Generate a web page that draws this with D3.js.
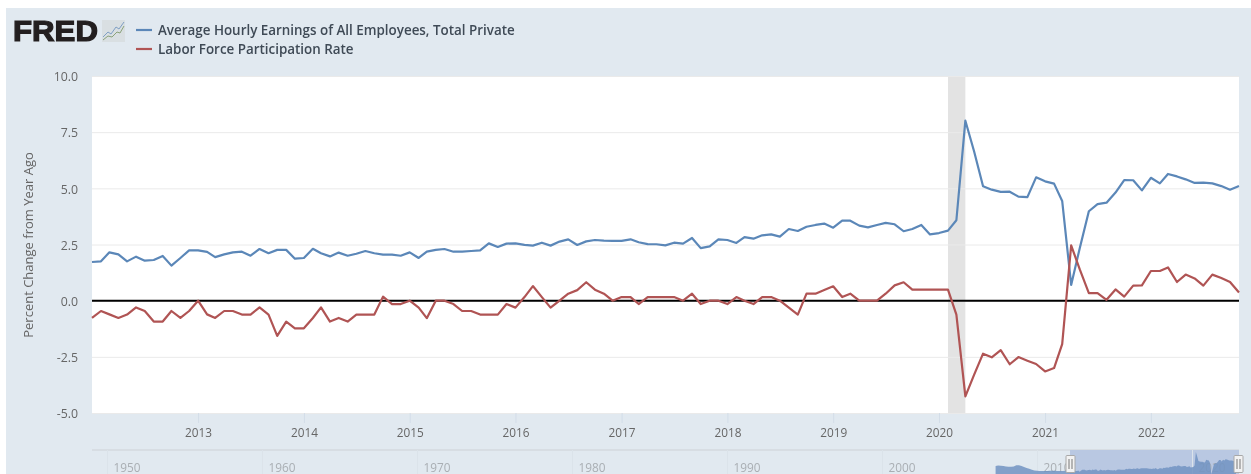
<!DOCTYPE html>
<html><head><meta charset="utf-8">
<script src="https://cdn.jsdelivr.net/npm/d3@7"></script>
<style>
html,body{margin:0;padding:0;background:#fff;overflow:hidden}
svg{display:block;filter:blur(0.55px)}
text{font-family:"Open Sans",sans-serif}
</style></head><body><div id="chart"></div>
<script>
const seriesNames = ["Average Hourly Earnings of All Employees, Total Private","Labor Force Participation Rate"];
const earnings = [1.72,1.75,2.15,2.06,1.75,1.96,1.78,1.81,1.99,1.56,1.90,2.24,2.24,2.17,1.94,2.06,2.15,2.18,2.00,2.30,2.11,2.26,2.26,1.87,1.90,2.31,2.11,1.97,2.14,2.00,2.09,2.21,2.11,2.05,2.05,2.00,2.15,1.90,2.18,2.26,2.30,2.18,2.18,2.21,2.24,2.55,2.39,2.54,2.55,2.48,2.45,2.58,2.45,2.63,2.73,2.48,2.64,2.70,2.67,2.66,2.66,2.73,2.60,2.52,2.51,2.46,2.58,2.54,2.79,2.34,2.42,2.73,2.70,2.57,2.83,2.76,2.91,2.95,2.85,3.19,3.10,3.29,3.37,3.43,3.25,3.56,3.56,3.34,3.26,3.37,3.46,3.40,3.09,3.19,3.37,2.95,3.01,3.12,3.58,8.01,6.65,5.09,4.94,4.84,4.85,4.63,4.61,5.49,5.31,5.21,4.44,0.70,2.36,3.98,4.30,4.36,4.81,5.37,5.36,4.91,5.47,5.22,5.64,5.53,5.40,5.24,5.25,5.22,5.10,4.94,5.10];
const participation = [-0.77,-0.46,-0.61,-0.77,-0.62,-0.30,-0.46,-0.93,-0.93,-0.46,-0.77,-0.46,0,-0.61,-0.77,-0.46,-0.46,-0.62,-0.62,-0.30,-0.62,-1.57,-0.93,-1.23,-1.23,-0.77,-0.30,-0.93,-0.77,-0.93,-0.62,-0.62,-0.62,0.18,-0.15,-0.15,0,-0.31,-0.78,0,0,-0.15,-0.46,-0.46,-0.62,-0.62,-0.62,-0.15,-0.31,0.16,0.65,0.16,-0.31,0,0.31,0.47,0.82,0.49,0.31,0,0.16,0.16,-0.15,0.16,0.16,0.16,0.16,0,0.31,-0.15,0,0,-0.15,0.16,0,-0.15,0.16,0.16,0,-0.31,-0.62,0.31,0.31,0.47,0.64,0.16,0.31,0,0,0,0.31,0.68,0.82,0.49,0.49,0.49,0.49,0.49,-0.62,-4.26,-3.30,-2.36,-2.52,-2.20,-2.83,-2.51,-2.67,-2.82,-3.15,-3.00,-1.93,2.46,1.38,0.34,0.34,0.04,0.50,0.18,0.67,0.68,1.32,1.32,1.48,0.83,1.16,0.99,0.67,1.16,1.01,0.83,0.36];
const earningsHistory = [3.4,3.6,3.5,3.4,3.3,3.2,3.2,3.3,3.7,3.7,3.4,3.1,2.8,2.5,2.2,2.0,1.9,1.8,1.8,1.8,1.8,1.9,1.9,1.9,1.8,1.8,1.8,1.9,1.9];
const historyStart = new Date(2007,4,1);
const seriesStart = new Date(2012,0,1), seriesEnd = new Date(2022,10,1);
const recessionSpan = [new Date(2020,1,1), new Date(2020,3,1)];
const yTicks = [-5,-2.5,0,2.5,5,7.5,10];
const xTickYears = [2013,2014,2015,2016,2017,2018,2019,2020,2021,2022];
const navTickYears = [1950,1960,1970,1980,1990,2000,2010,2020];
const yTitle = "Percent Change from Year Ago";
const colors = ["#5b87b8","#b05454"];

const W=1251,H=474;
const svg=d3.select("#chart").append("svg").attr("width",W).attr("height",H);
svg.append("rect").attr("x",6).attr("y",8).attr("width",W-6).attr("height",H-8).attr("fill","#e1e9f0");

const L=92,R=1239,T=76,B=413;
const months=d3.timeMonth.range(seriesStart,d3.timeMonth.offset(seriesEnd,1));
const x=d3.scaleTime().domain([seriesStart,seriesEnd]).range([L,R]);
const y=d3.scaleLinear().domain([-5,10]).range([B,T]);

svg.append("rect").attr("x",L).attr("y",T).attr("width",R-L).attr("height",B-T).attr("fill","#fff");
svg.append("rect").attr("x",x(recessionSpan[0])).attr("y",T).attr("height",B-T)
  .attr("width",x(recessionSpan[1])-x(recessionSpan[0])).attr("fill","#e3e3e3");

// grid
const yg=svg.append("g").attr("transform",`translate(${L},0)`)
  .call(d3.axisLeft(y).tickValues(yTicks).tickSize(-(R-L)).tickPadding(14).tickFormat(d=>d.toFixed(1)));
yg.select(".domain").remove();
yg.selectAll(".tick line").attr("stroke","#eaeaea");
yg.selectAll(".tick text").attr("fill","#666").style("font-size","12.3px").attr("dy","0.38em").attr("x",-14);

// x axis
const xg=svg.append("g").attr("transform",`translate(0,${B})`)
  .call(d3.axisBottom(x).tickValues(xTickYears.map(v=>new Date(v,0,1))).tickSize(10).tickPadding(4).tickFormat(d3.timeFormat("%Y")));
xg.select(".domain").remove();
xg.selectAll(".tick line").attr("stroke","#d3dde8");
xg.selectAll(".tick text").attr("fill","#666").attr("dy","0.85em").style("font-size","11.8px");

// zero line
svg.append("line").attr("x1",L).attr("x2",R).attr("y1",y(0)).attr("y2",y(0)).attr("stroke","#000").attr("stroke-width",2);

// series
const line=d3.line().x((d,i)=>x(months[i])).y(d=>y(d));
[earnings,participation].forEach((s,k)=>{
  svg.append("path").datum(s).attr("d",line).attr("fill","none").attr("stroke",colors[k]).attr("stroke-width",2.2).attr("stroke-linejoin","round");
});

// y title
svg.append("text").attr("transform",`translate(33,245) rotate(-90)`).attr("text-anchor","middle")
  .attr("fill","#666").style("font-size","13px").text(yTitle);

// legend
seriesNames.forEach((n,k)=>{
  const ly=[30,49][k];
  svg.append("line").attr("x1",136).attr("x2",152).attr("y1",ly).attr("y2",ly).attr("stroke",colors[k]).attr("stroke-width",2.2);
  svg.append("text").attr("x",158).attr("y",ly+4.5).attr("fill","#3f4a56").style("font-size","13.4px").style("font-weight",600).text(n);
});

// logo
svg.append("text").attr("x",13).attr("y",41).attr("fill","#231f20").attr("stroke","#231f20").attr("stroke-width",1.2)
  .attr("textLength",85).attr("lengthAdjust","spacingAndGlyphs")
  .style("font-family","'Liberation Sans',sans-serif").style("font-weight",700).style("font-size","29px").text("FRED");
const icon=svg.append("g").attr("transform","translate(102,20)");
icon.append("rect").attr("width",23).attr("height",22).attr("fill","#d9dfe2");
const iconBlue=[[1,17],[6,12],[9,14],[14,7],[17,9],[22,2]], iconGreen=[[1,20],[6,16],[10,17],[15,12],[18,13],[22,6]];
icon.append("path").attr("d",d3.line()(iconBlue)).attr("fill","none").attr("stroke","#7f9fc4").attr("stroke-width",1);
icon.append("path").attr("d",d3.line()(iconGreen)).attr("fill","none").attr("stroke","#8aa27a").attr("stroke-width",1);

// navigator
const navY0=450, navB=H, maskX=1070;
const nx=d3.scaleTime().domain([new Date(1950,0,1),new Date(2020,0,1)]).range([107,1192]);
const nh=d3.timeMonth.every(2).range(historyStart,seriesStart);
const navDates=nh.concat(months);
const hist=nh.map((d,i)=>earningsHistory[Math.min(i,earningsHistory.length-1)]);
const navVals=hist.concat(earnings);
const ny=d3.scaleLinear().domain([1.8,8]).range([471,452]);
svg.append("line").attr("x1",L).attr("x2",R).attr("y1",navY0).attr("y2",navY0).attr("stroke","#d3d9df").attr("stroke-width",1.5);
svg.append("rect").attr("x",maskX).attr("y",navY0).attr("width",R-maskX).attr("height",navB-navY0).attr("fill","#b9c8e2");
const ng=svg.append("g").attr("transform",`translate(0,${navY0})`)
  .call(d3.axisBottom(nx).tickValues(navTickYears.map(v=>new Date(v,0,1))).tickSize(24).tickFormat(d3.timeFormat("%Y")));
ng.select(".domain").remove();
ng.selectAll(".tick line").attr("stroke","#dbe3ea");
ng.selectAll(".tick text").attr("fill","#a9aeb3").attr("text-anchor","start").attr("x",6).attr("y",18).attr("dy","0.32em").style("font-size","11.8px");
svg.append("path").datum(navVals)
  .attr("d",d3.area().x((d,i)=>nx(navDates[i])).y0(navB).y1(d=>ny(d)))
  .attr("fill","#7193c2").attr("fill-opacity",0.85);
[1070.5,1238.5].forEach(hx=>{
  const h=svg.append("g").attr("transform",`translate(${hx},0)`);
  h.append("rect").attr("x",-4.5).attr("y",455.5).attr("width",9).attr("height",17).attr("rx",1).attr("fill","#f2f2f2").attr("stroke","#a8a8a8");
  [-1.5,1.5].forEach(o=>h.append("line").attr("x1",o).attr("x2",o).attr("y1",459).attr("y2",469).attr("stroke","#777"));
});
</script></body></html>
